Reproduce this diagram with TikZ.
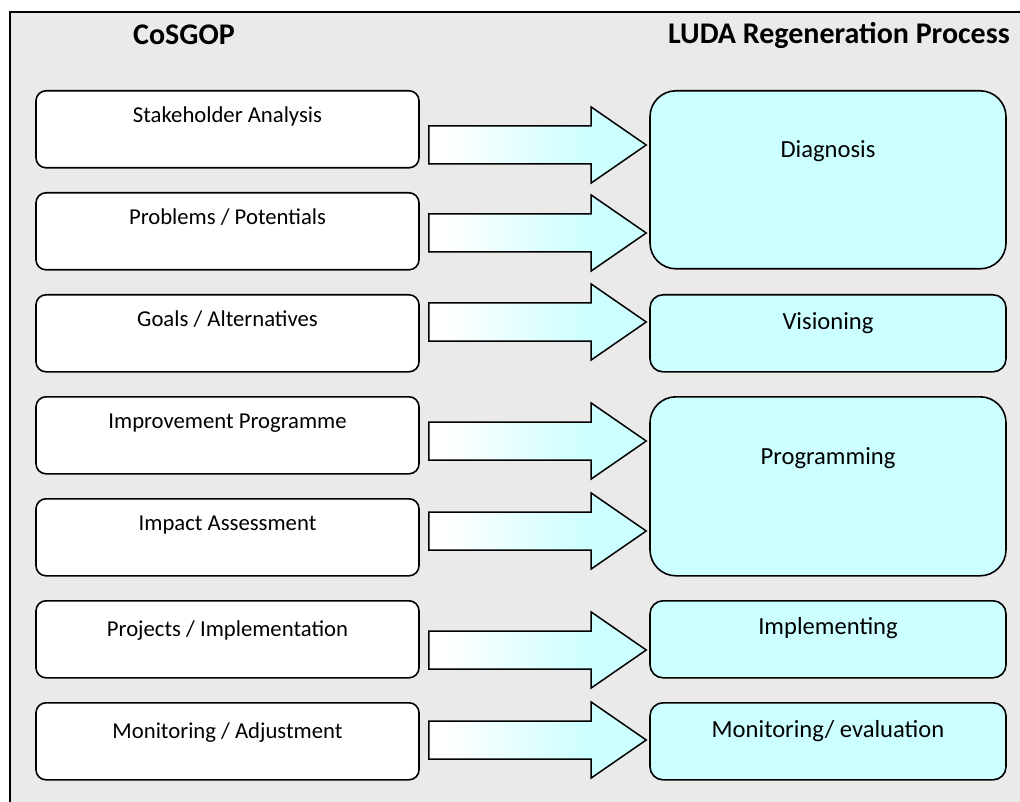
\documentclass[tikz,border=0pt]{standalone}
\usepackage{fontspec}
\setmainfont{Carlito}
\usetikzlibrary{calc}
\definecolor{panel}{HTML}{EAEAEA}
\definecolor{aqua}{HTML}{CCFFFF}
\definecolor{ink}{HTML}{000000}
\pgfdeclarehorizontalshading{fade}{100bp}{color(0bp)=(white); color(29bp)=(white); color(62bp)=(aqua); color(100bp)=(aqua)}
\tikzset{
  stepbox/.style={draw=ink,line width=1.6pt,fill=white,rounded corners=10pt,minimum width=383pt,
    inner ysep=0pt,text height=32pt,text depth=45pt,anchor=north,font=\fontsize{22.7}{27}\selectfont},
  phase/.style={draw=ink,line width=1.6pt,fill=aqua,minimum width=356pt,inner ysep=0pt,
    anchor=north,font=\fontsize{24.6}{29}\selectfont},
  head/.style={font=\bfseries\fontsize{30}{36}\selectfont},
  fat/.style={draw=ink,line width=1.5pt,line join=miter,shading=fade,shading angle=0}
}
% block arrow from one box towards another, #3 = height of its axis
\newcommand\fatarrow[3]{%
  \coordinate (s) at (#1.east |- 0,#3);
  \coordinate (e) at (#2.west |- 0,#3);
  \shadedraw[fat] ($(s)+(9,-19)$) -- ($(e)+(-58,-19)$) -- ($(e)+(-58,-38)$) -- ($(e)+(-3,0)$)
    -- ($(e)+(-58,38)$) -- ($(e)+(-58,19)$) -- ($(s)+(9,19)$) -- cycle;}

\begin{document}
\begin{tikzpicture}[x=1pt,y=-1pt]
  \useasboundingbox (0,0) rectangle (1020,802);
  \clip (0,0) rectangle (1020,802);
  \draw[line width=1.4pt,fill=panel] (10,12) rectangle (1030,812);

  \node[head] (tl) at (184,35) {CoSGOP};
  \node[head] (tr) at (839,35) {LUDA Regeneration Process};

  % CoSGOP steps
  \node[stepbox] (l1) at (227.5,90) {Stakeholder Analysis};
  \node[stepbox] (l2) at (227.5,192) {Problems / Potentials};
  \node[stepbox] (l3) at (227.5,294) {Goals / Alternatives};
  \node[stepbox] (l4) at (227.5,396) {Improvement Programme};
  \node[stepbox] (l5) at (227.5,498) {Impact Assessment};
  \node[stepbox,text height=36pt,text depth=41pt] (l6) at (227.5,600) {Projects / Implementation};
  \node[stepbox,text height=36pt,text depth=41pt] (l7) at (227.5,702) {Monitoring / Adjustment};

  % regeneration phases
  \node[phase,rounded corners=26pt,text height=67pt,text depth=111pt] (r1) at (828,90) {Diagnosis};
  \node[phase,rounded corners=13pt,text height=35pt,text depth=42pt] (r2) at (828,294) {Visioning};
  \node[phase,rounded corners=26pt,text height=68pt,text depth=111pt] (r3) at (828,396) {Programming};
  \node[phase,rounded corners=13pt,text height=34pt,text depth=43pt] (r4) at (828,600) {Implementing};
  \node[phase,rounded corners=13pt,text height=35pt,text depth=42pt] (r5) at (828,702) {Monitoring/ evaluation};

  \fatarrow{l1}{r1}{145}
  \fatarrow{l2}{r1}{233}
  \fatarrow{l3}{r2}{322}
  \fatarrow{l4}{r3}{441}
  \fatarrow{l5}{r3}{531}
  \fatarrow{l6}{r4}{650}
  \fatarrow{l7}{r5}{740}
\end{tikzpicture}
\end{document}
